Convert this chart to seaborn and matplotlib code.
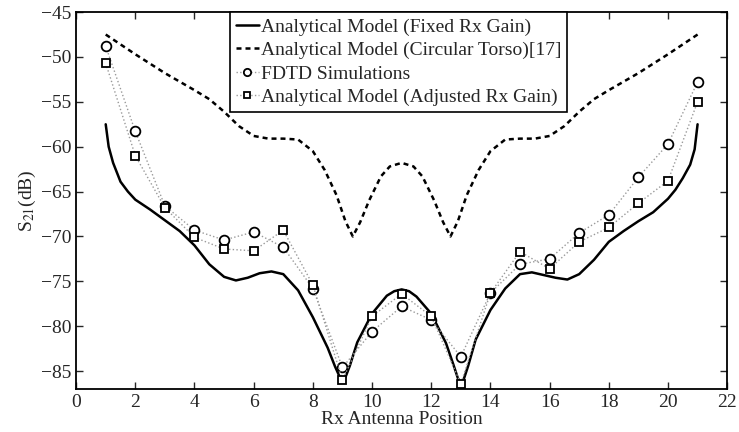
import numpy as np
import pandas as pd
import matplotlib
matplotlib.use("Agg")
import matplotlib.pyplot as plt
import seaborn as sns

# Rx antenna positions for the discrete data
positions = list(range(1, 22))

# FDTD simulation results (circles)
fdtd = [-48.8, -58.3, -66.6, -69.3, -70.4, -69.5, -71.2, -75.8, -84.6, -80.6, -77.8,
        -79.3, -83.4, -76.3, -73.1, -72.5, -69.6, -67.6, -63.4, -59.7, -52.8]

# Analytical model with adjusted Rx gain (squares)
adjusted = [-50.7, -61.0, -66.8, -70.1, -71.4, -71.6, -69.3, -75.4, -86.0, -78.9, -76.4,
            -78.9, -86.4, -76.3, -71.7, -73.6, -70.6, -69.0, -66.3, -63.8, -55.0]

# Analytical model, fixed Rx gain (solid curve)
fixed_x = [1.0, 1.1, 1.25, 1.5, 1.75, 2.0, 2.5, 3.0, 3.5, 4.0, 4.5, 5.0, 5.4, 5.8, 6.2,
           6.6, 7.0, 7.5, 8.0, 8.5, 8.75, 8.9, 9.0, 9.1, 9.25, 9.5, 10.0, 10.5, 10.75,
           11.0, 11.25, 11.5, 12.0, 12.5, 12.75, 12.9, 13.0, 13.1, 13.25, 13.5, 14.0,
           14.5, 15.0, 15.4, 15.8, 16.2, 16.6, 17.0, 17.5, 18.0, 18.5, 19.0, 19.5, 20.0,
           20.25, 20.5, 20.75, 20.9, 21.0]
fixed_y = [-57.5, -60.0, -61.8, -63.9, -65.0, -65.9, -67.0, -68.2, -69.4, -71.0, -73.1,
           -74.5, -74.9, -74.6, -74.1, -73.9, -74.2, -76.0, -79.0, -82.4, -84.5, -85.6,
           -86.0, -85.7, -84.4, -81.8, -78.6, -76.6, -76.1, -75.9, -76.1, -76.7, -78.6,
           -81.9, -84.3, -85.8, -86.3, -85.9, -84.4, -81.5, -78.2, -75.8, -74.2, -74.0,
           -74.3, -74.6, -74.8, -74.2, -72.6, -70.6, -69.4, -68.3, -67.3, -65.8, -64.8,
           -63.5, -62.0, -60.3, -57.5]

# Analytical model, circular torso [17] (dashed curve)
torso_x = [1.0, 2.0, 3.0, 4.0, 4.5, 5.0, 5.5, 6.0, 6.5, 7.0, 7.5, 8.0, 8.4, 8.8, 9.1,
           9.35, 9.6, 9.9, 10.3, 10.6, 11.0, 11.4, 11.7, 12.1, 12.4, 12.65, 12.9, 13.2,
           13.6, 14.0, 14.5, 15.0, 15.5, 16.0, 16.5, 17.0, 17.5, 18.0, 19.0, 20.0, 21.0]
torso_y = [-47.5, -49.7, -51.8, -53.7, -54.7, -56.1, -57.7, -58.8, -59.1, -59.1, -59.2,
           -60.5, -62.6, -65.4, -68.3, -70.0, -68.4, -66.0, -63.3, -62.2, -61.8, -62.2,
           -63.3, -66.0, -68.4, -70.0, -68.3, -65.4, -62.6, -60.5, -59.2, -59.1, -59.1,
           -58.8, -57.7, -56.1, -54.7, -53.7, -51.8, -49.7, -47.5]

sns.set_style("ticks")
plt.rcParams['font.family'] = ['Liberation Serif', 'DejaVu Serif']
plt.rcParams['mathtext.fontset'] = 'stix'

fig = plt.figure(figsize=(7.39, 4.32), dpi=100)
ax = fig.add_axes([0.103, 0.0995, 0.881, 0.8725])

sns.lineplot(x=fixed_x, y=fixed_y, ax=ax, color="black", lw=1.8, sort=False,
             label="Analytical Model (Fixed Rx Gain)")
sns.lineplot(x=torso_x, y=torso_y, ax=ax, color="black", lw=1.8, sort=False,
             linestyle=(0, (2.0, 1.6)), label="Analytical Model (Circular Torso)[17]")
sns.lineplot(x=positions, y=fdtd, ax=ax, color="#9a9a9a", lw=1.0, linestyle=":",
             marker="o", markersize=7, mfc="white", mec="black", mew=1.3,
             label="FDTD Simulations")
sns.lineplot(x=positions, y=adjusted, ax=ax, color="#9a9a9a", lw=1.0, linestyle=":",
             marker="s", markersize=6, mfc="white", mec="black", mew=1.3,
             label="Analytical Model (Adjusted Rx Gain)")

ax.set_xlim(0, 22)
ax.set_ylim(-87, -45)
ax.set_xticks(range(0, 23, 2))
ax.set_yticks(range(-85, -44, 5))
ax.tick_params(direction="in", top=True, right=True, labelsize=14, length=5, width=1)
for s in ax.spines.values():
    s.set_visible(True)
    s.set_linewidth(1.3)
    s.set_color("black")

ax.set_xlabel("Rx Antenna Position", fontsize=14, labelpad=0)
ax.set_ylabel("S$_{21}$(dB)", fontsize=14, labelpad=2)

leg = ax.legend(loc="upper center", bbox_to_anchor=(0.495, 1.0), borderaxespad=0,
                fontsize=14, handlelength=1.2, handletextpad=0.1, labelspacing=0.3,
                borderpad=0.3, markerscale=0.75, fancybox=False, framealpha=1,
                edgecolor="black")
leg.get_frame().set_linewidth(1.2)

fig.savefig("out.png", dpi=100)
